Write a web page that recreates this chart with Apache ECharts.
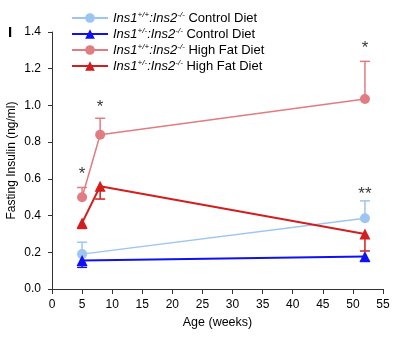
<!DOCTYPE html>
<html>
<head>
<meta charset="utf-8">
<script src="https://cdn.jsdelivr.net/npm/echarts@6/dist/echarts.min.js"></script>
<style>
  html, body { margin: 0; padding: 0; background: #fff; }
  #chart { width: 400px; height: 345px; }
</style>
</head>
<body>
<div id="chart"></div>
<script>
// Fasting insulin by age, four genotype/diet groups
const xTicks = [0, 5, 10, 15, 20, 25, 30, 35, 40, 45, 50, 55];
const yTicks = [0, 0.2, 0.4, 0.6, 0.8, 1.0, 1.2, 1.4];

const ageShort = [5, 52];
const ageLong = [5, 8, 52];

// group means (ng/ml)
const wtControl = [0.19, 0.385];
const hetControl = [0.155, 0.177];
const wtHighFat = [0.50, 0.84, 1.035];
const hetHighFat = [0.36, 0.56, 0.30];

// end of the one-sided SEM bar for each mean
const wtControlErr = [0.255, 0.48];
const hetControlErr = [0.118, 0.15];
const wtHighFatErr = [0.553, 0.93, 1.24];
const hetHighFatErr = [0.33, 0.49, 0.207];

// significance marks: age, height, text
const sigAge = [5, 8, 52, 52];
const sigLevel = [0.625, 0.99, 1.31, 0.515];
const sigText = ['*', '*', '*', '**'];

const names = [
  '{i|Ins1}{s|+/+}{i|:Ins2}{s|-/-}{n| Control Diet}',
  '{i|Ins1}{s|+/-}{i|:Ins2}{s|-/-}{n| Control Diet}',
  '{i|Ins1}{s|+/+}{i|:Ins2}{s|-/-}{n| High Fat Diet}',
  '{i|Ins1}{s|+/-}{i|:Ins2}{s|-/-}{n| High Fat Diet}'
];
const colors = ['#9cc5f2', '#1010f0', '#e07c82', '#d21e1e'];

const FONT = 'Liberation Sans, Arial, sans-serif';

function pairs(xs, ys) { return xs.map((x, i) => [x, ys[i]]); }

function errorSeries(xs, ys, ends, color) {
  return {
    type: 'custom',
    silent: true,
    z: 1,
    data: xs.map((x, i) => [x, ys[i], ends[i]]),
    renderItem: function (params, api) {
      const p0 = api.coord([api.value(0), api.value(1)]);
      const p1 = api.coord([api.value(0), api.value(2)]);
      const cap = 5;
      const style = { stroke: color, lineWidth: 1.5, fill: null };
      return {
        type: 'group',
        children: [
          { type: 'line', shape: { x1: p0[0], y1: p0[1], x2: p1[0], y2: p1[1] }, style: style },
          { type: 'line', shape: { x1: p1[0] - cap, y1: p1[1], x2: p1[0] + cap, y2: p1[1] }, style: style }
        ]
      };
    }
  };
}

function lineSeries(name, xs, ys, color, symbol, width) {
  return {
    name: name,
    type: 'line',
    z: 3,
    data: pairs(xs, ys),
    symbol: symbol,
    symbolSize: symbol === 'circle' ? 10 : 11,
    lineStyle: { color: color, width: width },
    itemStyle: { color: color },
    emphasis: { disabled: true }
  };
}

const chart = echarts.init(document.getElementById('chart'), null, { renderer: 'canvas' });

chart.setOption({
  animation: false,
  backgroundColor: '#ffffff',
  color: colors,
  textStyle: { fontFamily: FONT },
  graphic: [{
    type: 'text', left: 8, top: 25,
    style: { text: 'I', font: 'bold 15px ' + FONT, fill: '#000' }
  }],
  legend: {
    orient: 'vertical',
    left: 66,
    top: 6,
    itemWidth: 36,
    itemHeight: 12,
    itemGap: 2.5,
    data: names,
    formatter: function (n) { return n; },
    textStyle: {
      fontFamily: FONT,
      fontSize: 13,
      color: '#000',
      rich: {
        i: { fontStyle: 'italic', fontSize: 13, fontFamily: FONT, color: '#000' },
        s: { fontStyle: 'italic', fontSize: 8, fontFamily: FONT, color: '#000', verticalAlign: 'top', padding: [0, 0, 6, 0] },
        n: { fontSize: 13, fontFamily: FONT, color: '#000' }
      }
    }
  },
  grid: { left: 52, right: 17, top: 32, bottom: 56, containLabel: false, outerBoundsMode: 'none' },
  xAxis: {
    type: 'value',
    min: xTicks[0],
    max: xTicks[xTicks.length - 1],
    interval: 5,
    name: 'Age (weeks)',
    nameLocation: 'middle',
    nameGap: 27,
    nameMoveOverlap: false,
    nameTextStyle: { fontSize: 12.5, color: '#000', fontFamily: FONT },
    axisLine: { lineStyle: { color: '#333', width: 1 } },
    axisTick: { show: true, length: 5, lineStyle: { color: '#333' } },
    axisLabel: { fontSize: 12, color: '#000', margin: 10, fontFamily: FONT },
    splitLine: { show: false }
  },
  yAxis: {
    type: 'value',
    min: yTicks[0],
    max: yTicks[yTicks.length - 1],
    interval: 0.2,
    name: 'Fasting Insulin (ng/ml)',
    nameLocation: 'middle',
    nameGap: 34,
    nameMoveOverlap: false,
    nameTextStyle: { fontSize: 12, color: '#000', fontFamily: FONT },
    axisLine: { show: true, lineStyle: { color: '#333', width: 1 } },
    axisTick: { show: true, length: 4, lineStyle: { color: '#333' } },
    axisLabel: {
      fontSize: 12, color: '#000', margin: 11, fontFamily: FONT,
      formatter: function (v) { return v.toFixed(1); }
    },
    splitLine: { show: false }
  },
  series: [
    errorSeries(ageShort, wtControl, wtControlErr, colors[0]),
    errorSeries(ageShort, hetControl, hetControlErr, colors[1]),
    errorSeries(ageLong, wtHighFat, wtHighFatErr, colors[2]),
    errorSeries(ageLong, hetHighFat, hetHighFatErr, colors[3]),
    lineSeries(names[0], ageShort, wtControl, colors[0], 'circle', 1.5),
    lineSeries(names[1], ageShort, hetControl, colors[1], 'triangle', 2),
    lineSeries(names[2], ageLong, wtHighFat, colors[2], 'circle', 1.5),
    lineSeries(names[3], ageLong, hetHighFat, colors[3], 'triangle', 2),
    {
      type: 'scatter',
      silent: true,
      z: 4,
      symbolSize: 0,
      data: sigAge.map((x, i) => ({ value: [x, sigLevel[i]], name: sigText[i] })),
      label: {
        show: true,
        position: 'inside',
        formatter: function (p) { return p.name; },
        fontSize: 17,
        color: '#000',
        fontFamily: FONT
      }
    }
  ]
});
</script>
</body>
</html>
